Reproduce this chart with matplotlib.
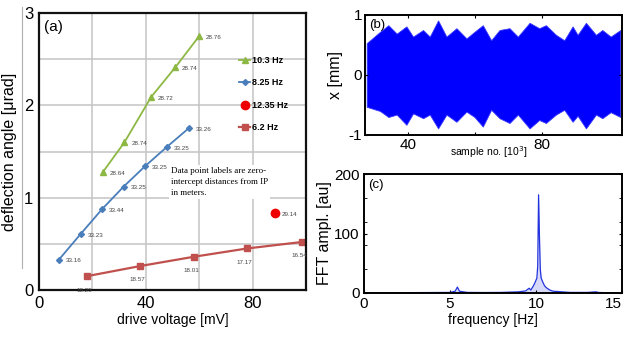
import matplotlib
matplotlib.use("Agg")
import matplotlib.pyplot as plt
import numpy as np

# -------------------------------------------------------
# DATA
# -------------------------------------------------------
# (a) deflection angle vs drive voltage
v_103 = [24, 32, 42, 51, 60]
a_103 = [1.28, 1.60, 2.09, 2.41, 2.75]
lab_103 = ["28.64", "28.74", "28.72", "28.74", "28.76"]

v_825 = [7.5, 15.7, 23.6, 31.7, 39.7, 47.9, 56]
a_825 = [0.33, 0.61, 0.875, 1.12, 1.34, 1.55, 1.75]
lab_825 = ["33.16", "33.23", "33.44", "33.25", "33.25", "33.25", "33.26"]

v_1235 = [88.3]
a_1235 = [0.835]
lab_1235 = ["29.14"]

v_62 = [18, 38, 58, 78, 98.5]
a_62 = [0.15, 0.26, 0.36, 0.45, 0.52]
lab_62 = ["18.25", "18.57", "18.01", "17.17", "16.54"]

# (b) time series envelope, sample no. [10^3] vs x [mm]
samp = [27.5, 31.5, 34.0, 36.5, 39.4, 41.4, 44.4, 46.4, 48.9, 51.4,
        54.4, 57.4, 59.8, 62.3, 64.8, 67.3, 70.3, 72.8, 76.3, 79.2,
        81.2, 84.2, 86.7, 89.2, 90.7, 93.2, 96.2, 98.1, 100.6, 103.5]
x_upper = [0.53, 0.72, 0.83, 0.69, 0.81, 0.64, 0.75, 0.64, 0.91, 0.64,
           0.78, 0.61, 0.72, 0.83, 0.58, 0.75, 0.78, 0.64, 0.87, 0.78,
           0.83, 0.67, 0.58, 0.81, 0.67, 0.87, 0.67, 0.75, 0.64, 0.75]
x_lower = [-0.53, -0.60, -0.70, -0.66, -0.83, -0.64, -0.72, -0.66, -0.89, -0.66,
           -0.78, -0.61, -0.70, -0.86, -0.58, -0.72, -0.80, -0.66, -0.89, -0.75,
           -0.80, -0.66, -0.58, -0.78, -0.68, -0.89, -0.66, -0.72, -0.62, -0.70]

# (c) FFT amplitude spectrum
freq = [0.0, 2.0, 4.0, 5.0, 5.3, 5.43, 5.55, 6.0, 7.0, 8.0, 9.0, 9.4, 9.6,
        9.7, 9.85, 9.95, 10.05, 10.1, 10.15, 10.2, 10.25, 10.3, 10.4, 10.5,
        10.6, 10.8, 11.0, 11.5, 12.0, 13.0, 13.5, 13.6, 14.0, 15.0]
ampl = [0.5, 0.5, 0.8, 1.0, 3.0, 10.0, 3.0, 1.0, 0.8, 1.0, 2.0, 3.5, 8.0,
        5.0, 12.0, 18.0, 25.0, 45.0, 165.0, 95.0, 40.0, 25.0, 18.0, 12.0,
        9.0, 5.0, 3.0, 2.0, 1.0, 1.0, 2.0, 1.0, 0.5, 0.5]

plt.rcParams["font.family"] = ["Liberation Sans", "DejaVu Sans"]
plt.rcParams["axes.unicode_minus"] = False

fig = plt.figure(figsize=(6.27, 3.37), dpi=100)

# -------------------------------------------------------
# PANEL (a)
# -------------------------------------------------------
ax = fig.add_axes([39 / 627, 47 / 337, 267 / 627, 277 / 337])
ax.set_xlim(0, 100)
ax.set_ylim(0, 3)
ax.set_xticks([0, 40, 80])
ax.set_yticks([0, 1, 2, 3])
ax.set_xticks([20, 60], minor=True)
ax.set_yticks([0.5, 1.5, 2.5], minor=True)
ax.grid(True, which="both", color="#c4c4c4", linewidth=1.1)
ax.set_axisbelow(True)
ax.tick_params(which="both", length=0, labelsize=12, pad=4)
for s in ax.spines.values():
    s.set_linewidth(1.6)
    s.set_color("#111111")

ax.plot(v_103, a_103, color="#8db843", marker="^", markersize=4.5, lw=1.3, label="10.3 Hz")
ax.plot(v_825, a_825, color="#4a7ebb", marker="D", markersize=3, lw=1.3, label="8.25 Hz")
ax.plot(v_1235, a_1235, color="#ee0000", marker="o", markersize=6, lw=0, label="12.35 Hz")
ax.plot(v_62, a_62, color="#c0504d", marker="s", markersize=5, lw=1.6, label="6.2 Hz")

lab_kw = dict(fontsize=4.5, color="#444444")
for xs, ys, ls in [(v_103, a_103, lab_103), (v_825, a_825, lab_825), (v_1235, a_1235, lab_1235)]:
    for xv, yv, l in zip(xs, ys, ls):
        ax.annotate(l, (xv, yv), xytext=(5, -1), textcoords="offset points",
                    ha="left", va="center", **lab_kw)
for xv, yv, l in zip(v_62, a_62, lab_62):
    ax.annotate(l, (xv, yv), xytext=(-2, -10), textcoords="offset points",
                ha="center", va="center", **lab_kw)

leg = ax.legend(loc="upper left", bbox_to_anchor=(0.72, 0.875), frameon=False,
                handlelength=1.2, handletextpad=0.15, labelspacing=1.5,
                prop={"weight": "bold", "size": 6.5})

ax.text(0.495, 0.39, "Data point labels are zero-\nintercept distances from IP\nin meters.",
        transform=ax.transAxes, family=["Liberation Serif", "DejaVu Serif"], fontsize=6.5,
        linespacing=1.5, va="center", ha="left",
        bbox=dict(facecolor="white", edgecolor="none", pad=1.5))
ax.text(0.02, 0.975, "(a)", transform=ax.transAxes, fontsize=11, va="top", ha="left")

ax.set_xlabel("drive voltage [mV]", fontsize=10, labelpad=2)
ax.set_ylabel("deflection angle [\u03bcrad]", fontsize=11.5, labelpad=5)
fig.add_artist(plt.Line2D([22 / 627, 22 / 627], [69 / 337, 330 / 337], color="#b0b0b0", lw=0.8))

# -------------------------------------------------------
# PANEL (b)
# -------------------------------------------------------
bx = fig.add_axes([365 / 627, 202 / 337, 257 / 627, 120 / 337])
bx.fill_between(samp, x_lower, x_upper, color="#0000ff", lw=0.6, edgecolor="#3a3aff")
bx.set_xlim(27, 104)
bx.set_ylim(-1, 1)
bx.set_xticks([40, 60, 80])
bx.set_xticklabels(["40", "", "80"])
bx.set_yticks([-1, 0, 1])
bx.tick_params(direction="in", length=2.5, labelsize=11, top=True, right=True, pad=2)
for s in bx.spines.values():
    s.set_linewidth(1.4)
bx.set_xlabel("sample no. [10$^3$]", fontsize=7.5)
bx.xaxis.set_label_coords(0.48, -0.08)
bx.set_ylabel("x [mm]", fontsize=11.5, labelpad=4)
bx.text(0.015, 0.97, "(b)", transform=bx.transAxes, fontsize=9.5, va="top", ha="left")

# -------------------------------------------------------
# PANEL (c)
# -------------------------------------------------------
cx = fig.add_axes([364 / 627, 44 / 337, 258 / 627, 119 / 337])
cx.plot(freq, ampl, color="#2233dd", lw=0.9)
cx.fill_between(freq, 0, ampl, color="#8a93f0", alpha=0.35, lw=0)
cx.set_xlim(0, 15)
cx.set_ylim(0, 200)
cx.set_xticks([0, 5, 10, 15])
cx.set_xticklabels(["0", "5", "10", "15"])
cx.get_xticklabels()[-1].set_horizontalalignment("right")
cx.set_yticks([0, 100, 200])
cx.set_yticks([40, 80, 120, 160], minor=True)
cx.tick_params(which="both", direction="in", length=2.5, labelsize=11, right=True, pad=3)
for s in cx.spines.values():
    s.set_linewidth(1.4)
cx.set_xlabel("frequency [Hz]", fontsize=10, labelpad=1)
cx.set_ylabel("FFT ampl. [au]", fontsize=11.5, labelpad=2)
cx.text(0.015, 0.96, "(c)", transform=cx.transAxes, fontsize=9.5, va="top", ha="left")

fig.savefig("out.png", dpi=100)
